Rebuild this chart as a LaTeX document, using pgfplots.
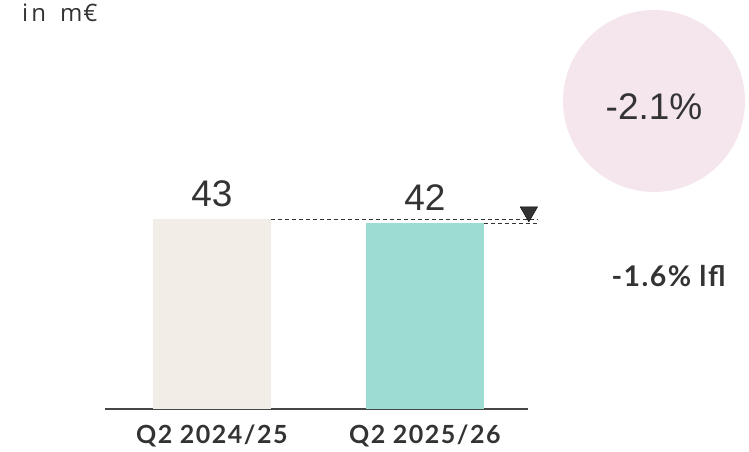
\documentclass[border=0pt]{standalone}
\usepackage{pgfplots}
\pgfplotsset{compat=1.18}
\usepackage{fontspec}
\setmainfont{Lato}
\newfontfamily\numfont{Liberation Sans}
\newfontfamily\osfont{Open Sans}
\newfontfamily\labfont[LetterSpace=6]{Lato}
\newfontfamily\lflfont[LetterSpace=5]{Lato}
\definecolor{txt}{HTML}{333333}
\definecolor{barA}{HTML}{F2EDE6}
\definecolor{barB}{HTML}{9CDCD2}
\definecolor{circ}{HTML}{F5E6EE}
\begin{document}
\begin{tikzpicture}[x=1pt,y=1pt]
\useasboundingbox (0,0) rectangle (749,451);
\fill[circ] (654,350) circle (91);
\node[txt,font=\numfont\fontsize{37}{40}\selectfont] at (654,344) {-2.1\%};
\node[txt,font=\lflfont\bfseries\fontsize{28.5}{32}\selectfont,anchor=base] at (668.5,165) {-1.6\% lfl};
\node[txt,font=\osfont\fontsize{24}{28}\selectfont,anchor=base west,inner sep=0pt] at (22,429) {i\hspace{3pt}n\hspace{14pt}m\hspace{1pt}€};
\begin{axis}[
  at={(105pt,42pt)}, anchor=south west,
  scale only axis, width=423pt, height=190pt,
  xmin=-0.502, xmax=1.484, ymin=0, ymax=43,
  clip=false,
  axis x line=bottom, axis y line=none,
  axis line style={color=txt!90, line width=2pt, -},
  xtick={0,1}, xticklabels={Q2 2024/25, Q2 2025/26},
  major tick length=0pt,
  xticklabel style={txt, font=\labfont\bfseries\fontsize{25}{30}\selectfont, anchor=base, yshift=-34pt},
  ytick=\empty,
  ybar, bar width=118pt,
  /pgf/number format/assume math mode=true,
  nodes near coords,
  nodes near coords style={txt, font=\numfont\fontsize{37}{40}\selectfont, anchor=base, yshift=13pt},
]
\addplot[fill=barA, draw=none, bar shift=0pt] coordinates {(0,43)};
\addplot[fill=barB, draw=none, bar shift=0pt] coordinates {(1,42)};
\addplot[sharp plot, nodes near coords=, draw=txt, line width=0.9pt, dash pattern=on 4pt off 3pt] coordinates {(0.277,43) (1.526,43)};
\addplot[sharp plot, nodes near coords=, draw=txt, line width=0.9pt, dash pattern=on 4pt off 3pt] coordinates {(1.277,42) (1.526,42)};
\addplot[only marks, nodes near coords=, mark=triangle*, mark size=10pt, mark options={rotate=180, fill=txt, draw=none}] coordinates {(1.488,44.6)};
\end{axis}
\end{tikzpicture}
\end{document}
